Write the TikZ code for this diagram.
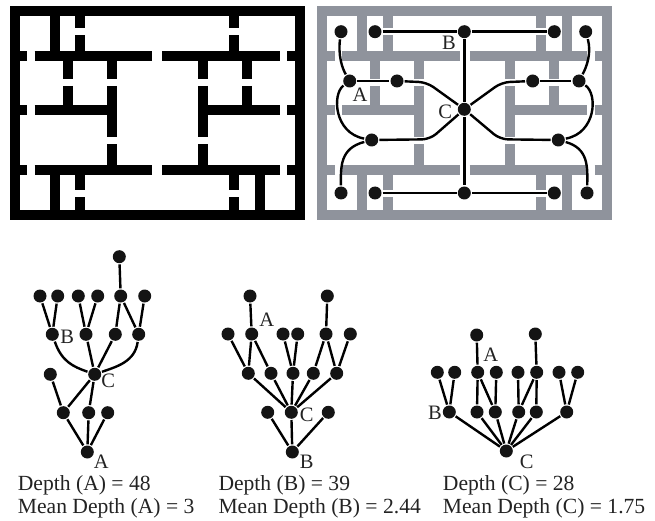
\documentclass[tikz,border=0pt]{standalone}
\usepackage{fontspec}
\setmainfont{Liberation Serif}
\usepackage{tikz}
\usetikzlibrary{positioning}
\definecolor{wallgray}{RGB}{143,147,156}
\definecolor{textgray}{RGB}{35,35,35}
\tikzset{every path/.append style={line width=2.4pt,line join=round}}
\tikzset{
	dot/.style={circle,fill=black!92,inner sep=0pt,minimum size=13pt},
	wall/.style={line width=10pt,line join=miter},
	tag/.style={inner sep=0pt,text=textgray,font=\fontsize{20.5}{22}\selectfont},
	caption/.style={inner sep=0pt,anchor=base west,text=textgray,font=\fontsize{21.6}{24}\selectfont}
}
\newcommand{\planDot}[2]{\node (#2) at #1 [dot]{};}
\newcommand{\planWalls}[1]{
	\draw[wall,#1] (15,11.5) rectangle (300,215);
	\draw[wall,#1] (20,56) -- (27.3,56) (34.7,56) -- (152.3,56) (162.3,56) -- (280,56) (287.3,56) -- (295,56);
	\draw[wall,#1] (20,110.5) -- (27.3,110.5) (34.7,110.5) -- (106.7,110.5) (207.7,110.5) -- (280,110.5) (287.3,110.5) -- (295,110.5);
	\draw[wall,#1] (20,170.5) -- (27.3,170.5) (34.7,170.5) -- (152.3,170.5) (162.3,170.5) -- (280,170.5) (287.3,170.5) -- (295,170.5);
	\draw[wall,#1] (55,16.5) -- (55,51) (55,175.5) -- (55,210) (260,175.5) -- (260,210);
	\draw[wall,#1] (80.3,16.5) -- (80.3,28.3) (80.3,35.3) -- (80.3,51) (80.3,175.5) -- (80.3,190) (80.3,197.3) -- (80.3,210);
	\draw[wall,#1] (234,16.5) -- (234,28.3) (234,35.3) -- (234,51) (234,175.5) -- (234,190) (234,197.3) -- (234,210);
	\draw[wall,#1] (68,61) -- (68,79) (68,86) -- (68,105.5) (247,61) -- (247,79) (247,86) -- (247,105.5);
	\draw[wall,#1] (111.7,61) -- (111.7,79) (111.7,86) -- (111.7,137) (111.7,144.3) -- (111.7,165.5);
	\draw[wall,#1] (202.7,61) -- (202.7,79) (202.7,86) -- (202.7,137) (202.7,144.3) -- (202.7,165.5);
}
\begin{document}
\begin{tikzpicture}[x=1pt,y=-1pt]
	\useasboundingbox (0,0) rectangle (655,521);
	\planWalls{black}
	\begin{scope}[shift={(307.3,0)}]
		\planWalls{wallgray}
		\draw[wall,wallgray] (260,16.5) -- (260,51);
	\end{scope}

	\planDot{(341,31.7)}{p1}
	\planDot{(375,31.7)}{p2}
	\planDot{(464.3,31.7)}{pB}
	\planDot{(554.3,31.7)}{p3}
	\planDot{(585.7,31.7)}{p4}
	\planDot{(349.7,81)}{pA}
	\planDot{(397,81)}{p5}
	\planDot{(464.3,109.3)}{pC}
	\planDot{(532.7,81)}{p6}
	\planDot{(579,81)}{p7}
	\planDot{(371.7,140)}{p8}
	\planDot{(558.3,140)}{p9}
	\planDot{(341,193)}{p10}
	\planDot{(375,193)}{p11}
	\planDot{(464.3,193)}{p12}
	\planDot{(554.3,193)}{p13}
	\planDot{(587,193)}{p14}

	\draw (p2) -- (pB);
	\draw (pB) -- (p3);
	\draw (pB) -- (pC);
	\draw (pC) -- (p12);
	\draw (p11) -- (p12);
	\draw (p12) -- (p13);
	\draw (pA) -- (p5);
	\draw (p6) -- (p7);
	\draw[rounded corners=8pt] (p5) -- (426.7,82.3) -- (pC);
	\draw[rounded corners=8pt] (p8) -- (430,139.3) -- (pC);
	\draw[rounded corners=8pt] (p6) -- (501.7,82.3) -- (pC);
	\draw[rounded corners=8pt] (p9) -- (500,139.3) -- (pC);
	\draw (p1) .. controls (338,55) and (342,68) .. (pA);
	\draw (pA) .. controls (332,94) and (334,133) .. (p8);
	\draw (p8) .. controls (340,148.3) and (340.7,166.7) .. (p10);
	\draw (p4) .. controls (591.7,53) and (586.7,66.7) .. (p7);
	\draw (p7) .. controls (598,94) and (596,133) .. (p9);
	\draw (p9) .. controls (588.3,148.3) and (587.7,166.7) .. (p14);

	\node (pLabelB) at (449,42.7) [tag]{B};
	\node (pLabelA) at (360,95) [tag]{A};
	\node (pLabelC) at (445.3,111.7) [tag]{C};

	\planDot{(119.3,256.7)}{a1}
	\planDot{(40,296)}{a2}
	\planDot{(57.7,296)}{a3}
	\planDot{(78.3,296)}{a4}
	\planDot{(97.7,296)}{a5}
	\planDot{(120.7,296)}{a6}
	\planDot{(144.7,296)}{a7}
	\planDot{(52.3,334.3)}{aB}
	\planDot{(86,334.3)}{a8}
	\planDot{(115.3,334.3)}{a9}
	\planDot{(138.7,334.3)}{a10}
	\planDot{(50.3,374.3)}{a11}
	\planDot{(94.7,374.3)}{aC}
	\planDot{(63.3,412.7)}{a12}
	\planDot{(88.7,412.7)}{a13}
	\planDot{(107.7,412.7)}{a14}
	\planDot{(87.3,452)}{aA}

	\draw (a1) -- (a6);
	\draw (a2) -- (aB);
	\draw (a3) -- (aB);
	\draw (a4) -- (a8);
	\draw (a5) -- (a8);
	\draw (a6) -- (a9);
	\draw (a6) -- (a10);
	\draw (a7) -- (a10);
	\draw (aB) .. controls (61.7,361.7) and (73.3,366.7) .. (aC);
	\draw (a8) -- (aC);
	\draw (a9) -- (aC);
	\draw (a10) .. controls (135,361.7) and (116.7,366.7) .. (aC);
	\draw (a11) -- (a12);
	\draw (aC) -- (a12);
	\draw (aC) -- (a13);
	\draw (a12) -- (aA);
	\draw (a13) -- (aA);
	\draw (a14) -- (aA);

	\node (aLabelB) at (67.3,336.7) [tag]{B};
	\node (aLabelC) at (108.3,380.7) [tag]{C};
	\node (aLabelA) at (101.3,461.7) [tag]{A};

	\planDot{(250,296)}{b1}
	\planDot{(327.3,296)}{b2}
	\planDot{(228,334)}{b3}
	\planDot{(251.7,334)}{bA}
	\planDot{(283,334)}{b4}
	\planDot{(297.7,334)}{b5}
	\planDot{(326,334)}{b6}
	\planDot{(350.3,334)}{b7}
	\planDot{(248.3,373.3)}{b8}
	\planDot{(271,373.3)}{b9}
	\planDot{(293,373.3)}{b10}
	\planDot{(313.3,373.3)}{b11}
	\planDot{(336.7,373.3)}{b12}
	\planDot{(267.7,412.3)}{b13}
	\planDot{(291.3,412.3)}{bC}
	\planDot{(328.3,412.3)}{b14}
	\planDot{(292.3,452)}{bB}

	\draw (b1) -- (bA);
	\draw (b2) -- (b6);
	\draw (b3) -- (b8);
	\draw (bA) -- (b8);
	\draw (bA) -- (b9);
	\draw (b4) -- (b10);
	\draw (b5) -- (b10);
	\draw (b6) -- (b11);
	\draw (b6) -- (b12);
	\draw (b7) -- (b12);
	\draw (b8) -- (bC);
	\draw (b9) -- (bC);
	\draw (b10) -- (bC);
	\draw (b11) -- (bC);
	\draw (b12) -- (bC);
	\draw (bC) -- (bB);
	\draw (b13) -- (bB);
	\draw (b14) -- (bB);

	\node (bLabelA) at (266.7,320) [tag]{A};
	\node (bLabelC) at (306.7,415) [tag]{C};
	\node (bLabelB) at (306.7,461.7) [tag]{B};

	\planDot{(476.7,335)}{c1}
	\planDot{(535.3,334)}{c2}
	\planDot{(437.3,372.3)}{c3}
	\planDot{(454.7,372.3)}{c4}
	\planDot{(477.7,372.3)}{cA}
	\planDot{(496.3,372.3)}{c5}
	\planDot{(518,372.3)}{c6}
	\planDot{(536.7,372.3)}{c7}
	\planDot{(559,372.3)}{c8}
	\planDot{(577.7,372.3)}{c9}
	\planDot{(449.3,412)}{cB}
	\planDot{(477,412)}{c10}
	\planDot{(495.3,412)}{c11}
	\planDot{(518.7,412)}{c12}
	\planDot{(536.3,412)}{c13}
	\planDot{(566.7,412)}{c14}
	\planDot{(506.3,451)}{cC}

	\draw (c1) -- (cA);
	\draw (c2) -- (c7);
	\draw (c3) -- (cB);
	\draw (c4) -- (cB);
	\draw (cA) -- (c10);
	\draw (cA) -- (c11);
	\draw (c5) -- (c11);
	\draw (c6) -- (c12);
	\draw (c7) -- (c12);
	\draw (c7) -- (c13);
	\draw (c8) -- (c14);
	\draw (c9) -- (c14);
	\draw (cB) -- (cC);
	\draw (c10) -- (cC);
	\draw (c11) -- (cC);
	\draw (c12) -- (cC);
	\draw (c13) -- (cC);
	\draw (c14) -- (cC);

	\node (cLabelA) at (490.7,354.3) [tag]{A};
	\node (cLabelB) at (435,412.7) [tag]{B};
	\node (cLabelC) at (526.7,461.7) [tag]{C};

	\node (depthA) at (16.7,490) [caption]{Depth (A) = 48};
	\node (meanA) at (16.7,513) [caption]{Mean Depth (A) = 3};
	\node (depthB) at (217.3,490) [caption]{Depth (B) = 39};
	\node (meanB) at (217.3,513) [caption]{Mean Depth (B) = 2.44};
	\node (depthC) at (441.7,490) [caption]{Depth (C) = 28};
	\node (meanC) at (441.7,513) [caption]{Mean Depth (C) = 1.75};
\end{tikzpicture}
\end{document}
